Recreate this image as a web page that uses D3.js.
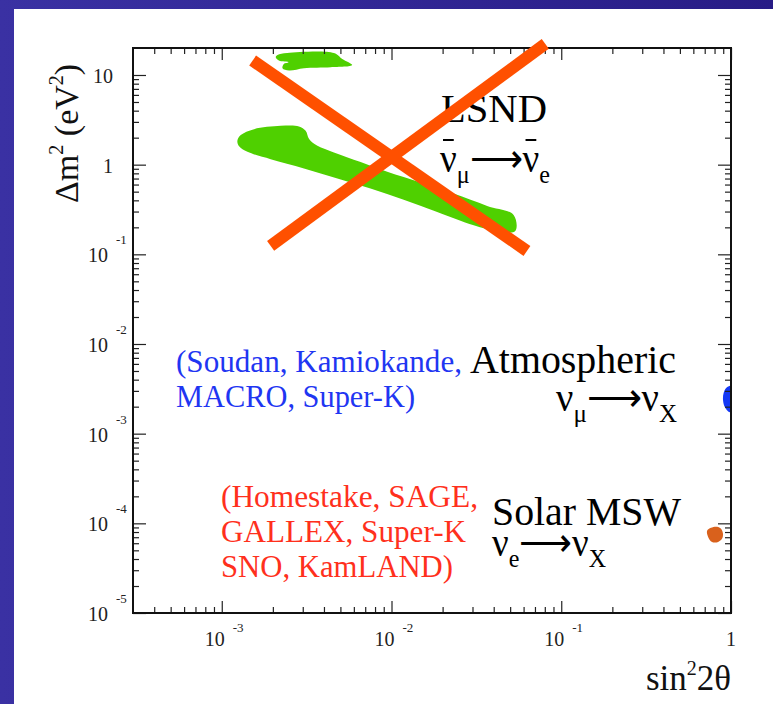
<!DOCTYPE html>
<html><head><meta charset="utf-8">
<script src="https://cdn.jsdelivr.net/npm/d3@7"></script>
<style>html,body{margin:0;padding:0;overflow:hidden;}svg{display:block;}</style>
</head><body>
<script>
// ---- data (sin^2 2θ , Δm^2 in eV^2) ----
const xDomain = [3e-4, 1];
const yDomain = [1e-5, 20];
const xMajor = [1e-3, 1e-2, 1e-1, 1];
const xMajorExp = ["-3", "-2", "-1", null];
const yMajor = [1e-5, 1e-4, 1e-3, 1e-2, 1e-1, 1, 10];
const yMajorExp = ["-5", "-4", "-3", "-2", "-1", null, null];
const yMajorBase = ["10", "10", "10", "10", "10", "1", "10"];

// LSND allowed regions
const lsndUpper = [[2.13e-3,16.7],[2.43e-3,17.6],[4.58e-3,17.6],[5.13e-3,15.1],[5.87e-3,12.9],[4.38e-3,12.2],
  [3.05e-3,11.9],[2.49e-3,11.2],[2.28e-3,11.9],[2.32e-3,13.3],[2.49e-3,13.9],[2.17e-3,14.5],[2.08e-3,15.8]];
const lsndLower = [[1.236e-3,1.845],[1.294e-3,2.14],[1.549e-3,2.49],[2.223e-3,2.71],[2.85e-3,2.67],[3.12e-3,2.39],
  [3.27e-3,1.93],[3.66e-3,1.62],[4.58e-3,1.37],[6.58e-3,1.07],[9.44e-3,0.832],[1.483e-2,0.632],[2.32e-2,0.476],
  [3.66e-2,0.347],[5.24e-2,0.275],[5.36e-2,0.182],[4.19e-2,0.182],[3.05e-2,0.211],[1.858e-2,0.297],[1.18e-2,0.405],
  [7.52e-3,0.542],[4.80e-3,0.701],[3.05e-3,0.908],[1.941e-3,1.151],[1.416e-3,1.39],[1.265e-3,1.60]];
// Atmospheric allowed region
const atmRegion = [[1.0,3.40e-3],[0.94,3.25e-3],[0.905,2.85e-3],[0.897,2.40e-3],[0.915,2.02e-3],[0.96,1.78e-3],[1.0,1.74e-3]];
// Solar MSW (LMA) allowed region
const solarRegion = [[0.733,7.06e-5],[0.723,8.24e-5],[0.762,8.91e-5],[0.828,9.14e-5],[0.873,8.69e-5],[0.897,7.64e-5],
  [0.885,6.71e-5],[0.840,6.21e-5],[0.773,6.21e-5]];
// cross over LSND
const crossA = [[1.52e-3,14.5],[0.0628,0.109]];
const crossB = [[1.94e-3,0.124],[0.0805,22.2]];

const atmExperiments = ["(Soudan, Kamiokande,", "MACRO, Super-K)"];
const solarExperiments = ["(Homestake, SAGE,", "GALLEX, Super-K", "SNO, KamLAND)"];

// ---- drawing ----
const W = 773, H = 704;
const svg = d3.select("body").append("svg").attr("width", W).attr("height", H);
const defs = svg.append("defs");
const grad = defs.append("linearGradient").attr("id","bg").attr("x1","0").attr("y1","0").attr("x2","1").attr("y2","0");
grad.append("stop").attr("offset","0").attr("stop-color","#3a31a3");
grad.append("stop").attr("offset","1").attr("stop-color","#281c86");
svg.append("rect").attr("width",W).attr("height",H).attr("fill","url(#bg)");
svg.append("rect").attr("x",14).attr("y",9).attr("width",W-14).attr("height",H-9).attr("fill","#fff");

const L = 133, R = 731, T = 48, B = 613;
const x = d3.scaleLog().domain(xDomain).range([L, R]);
const y = d3.scaleLog().domain(yDomain).range([B, T]);

defs.append("clipPath").attr("id","plotclip").append("rect").attr("x",L).attr("y",T).attr("width",R-L).attr("height",B-T);

const area = d3.line().x(d => x(d[0])).y(d => y(d[1])).curve(d3.curveCatmullRomClosed.alpha(0.5));
const g = svg.append("g").attr("clip-path","url(#plotclip)");
g.append("path").attr("d", area(lsndUpper)).attr("fill","#4fd000");
g.append("path").attr("d", area(lsndLower)).attr("fill","#4fd000");
g.append("path").attr("d", area(atmRegion)).attr("fill","#1438f5");
g.append("path").attr("d", area(solarRegion)).attr("fill","#d9611c");

// minor tick values
function minors(lo, hi) {
  const out = [];
  for (let e = Math.floor(Math.log10(lo)); e <= Math.ceil(Math.log10(hi)); e++) {
    for (let k = 2; k <= 9; k++) { const v = k * Math.pow(10, e); if (v > lo * 1.0001 && v < hi * 0.9999) out.push(v); }
  }
  return out;
}
const xMinor = minors(xDomain[0], xDomain[1]);
const yMinor = minors(yDomain[0], yDomain[1]);

function drawAxis(axisFn, scale, vals, size, tr) {
  const a = svg.append("g").attr("transform", tr)
    .call(axisFn(scale).tickValues(vals).tickSize(size).tickFormat(""));
  a.select(".domain").remove();
  a.selectAll(".tick line").attr("stroke","#222").attr("stroke-width",1.2);
}
drawAxis(d3.axisTop, x, xMajor, 12, `translate(0,${B})`);
drawAxis(d3.axisTop, x, xMinor, 6, `translate(0,${B})`);
drawAxis(d3.axisBottom, x, xMajor, 12, `translate(0,${T})`);
drawAxis(d3.axisBottom, x, xMinor, 6, `translate(0,${T})`);
drawAxis(d3.axisRight, y, yMajor, 13, `translate(${L},0)`);
drawAxis(d3.axisRight, y, yMinor, 6, `translate(${L},0)`);
drawAxis(d3.axisLeft, y, yMajor, 13, `translate(${R},0)`);
drawAxis(d3.axisLeft, y, yMinor, 6, `translate(${R},0)`);

svg.append("rect").attr("x",L).attr("y",T).attr("width",R-L).attr("height",B-T)
  .attr("fill","none").attr("stroke","#111").attr("stroke-width",2);

const serif = "'Liberation Serif','Times New Roman',serif";
// x tick labels
xMajor.forEach((v, i) => {
  const px = x(v);
  if (xMajorExp[i] === null) {
    svg.append("text").attr("x", px).attr("y", 646).attr("text-anchor","middle")
      .attr("font-family", serif).attr("font-size", 20).attr("fill","#222").text("1");
  } else {
    svg.append("text").attr("x", px - 7).attr("y", 646).attr("text-anchor","middle")
      .attr("font-family", serif).attr("font-size", 20).attr("fill","#222").text("10");
    svg.append("text").attr("x", px + 11).attr("y", 632)
      .attr("font-family", serif).attr("font-size", 13).attr("fill","#222").text(xMajorExp[i]);
  }
});
// y tick labels
yMajor.forEach((v, i) => {
  const py = y(v);
  if (yMajorExp[i] === null) {
    svg.append("text").attr("x", 113).attr("y", py + 8).attr("text-anchor","end")
      .attr("font-family", serif).attr("font-size", 20).attr("fill","#222").text(yMajorBase[i]);
  } else {
    svg.append("text").attr("x", 108).attr("y", py + 8).attr("text-anchor","end")
      .attr("font-family", serif).attr("font-size", 20).attr("fill","#222").text(yMajorBase[i]);
    svg.append("text").attr("x", 116).attr("y", py - 10)
      .attr("font-family", serif).attr("font-size", 13).attr("fill","#222").text(yMajorExp[i]);
  }
});

// axis titles
const yt = svg.append("text").attr("transform","translate(78,203) rotate(-90)")
  .attr("font-family", serif).attr("font-size", 34).attr("fill","#111");
yt.append("tspan").text("Δm");
yt.append("tspan").attr("font-size",20).attr("dy",-15).text("2");
yt.append("tspan").attr("dy",15).text(" (eV");
yt.append("tspan").attr("font-size",20).attr("dy",-15).text("2");
yt.append("tspan").attr("dy",15).text(")");

const xt = svg.append("text").attr("x", R).attr("y", 690).attr("text-anchor","end")
  .attr("font-family", serif).attr("font-size", 35).attr("fill","#111");
xt.append("tspan").text("sin");
xt.append("tspan").attr("font-size",20).attr("dy",-15).text("2");
xt.append("tspan").attr("dy",15).text("2θ");

// annotations
function plain(txt, px, py, size, color, len) {
  const t = svg.append("text").attr("x", px).attr("y", py).attr("font-family", serif)
    .attr("font-size", size).attr("fill", color).text(txt);
  if (len) t.attr("textLength", len).attr("lengthAdjust", "spacingAndGlyphs");
  return t;
}
function reaction(px, py, a, asub, b, bsub, bar, len) {
  const t = svg.append("text").attr("x", px).attr("y", py).attr("font-family", serif)
    .attr("font-size", 40).attr("fill", "#000")
    .attr("textLength", len).attr("lengthAdjust", "spacingAndGlyphs");
  t.append("tspan").text(a);
  t.append("tspan").attr("font-size", 26).attr("dy", 11).text(asub);
  t.append("tspan").attr("dy", -11).text("⟶");
  t.append("tspan").text(b);
  t.append("tspan").attr("font-size", 26).attr("dy", 11).text(bsub);
  if (bar) {
    const n = t.node();
    [0, 3].forEach(ci => {
      const e = n.getExtentOfChar(ci);
      svg.append("line").attr("x1", e.x + 3).attr("x2", e.x + e.width - 3)
        .attr("y1", py - 32).attr("y2", py - 32).attr("stroke", "#000").attr("stroke-width", 2);
    });
  }
  return t;
}
plain("LSND", 441, 122, 40, "#000", 106);
reaction(440, 172, "ν", "μ", "ν", "e", true, 110);
plain("Atmospheric", 470, 373, 40, "#000", 206);
reaction(556, 411, "ν", "μ", "ν", "X", false, 121);
plain("Solar MSW", 492, 525, 40, "#000", 189);
reaction(492, 556, "ν", "e", "ν", "X", false, 114);

const atmLens = [286, 239];
const solarLens = [257, 245, 232];
atmExperiments.forEach((s, i) => plain(s, 176, 372 + i * 35, 31, "#1f36f2", atmLens[i]));
solarExperiments.forEach((s, i) => plain(s, 221, 507 + i * 35, 31, "#ff301c", solarLens[i]));

// cross
const seg = d3.line().x(d => x(d[0])).y(d => y(d[1]));
[crossA, crossB].forEach(c => svg.append("path").attr("d", seg(c))
  .attr("stroke","#ff5000").attr("stroke-width",12).attr("fill","none"));
</script>
</body></html>
